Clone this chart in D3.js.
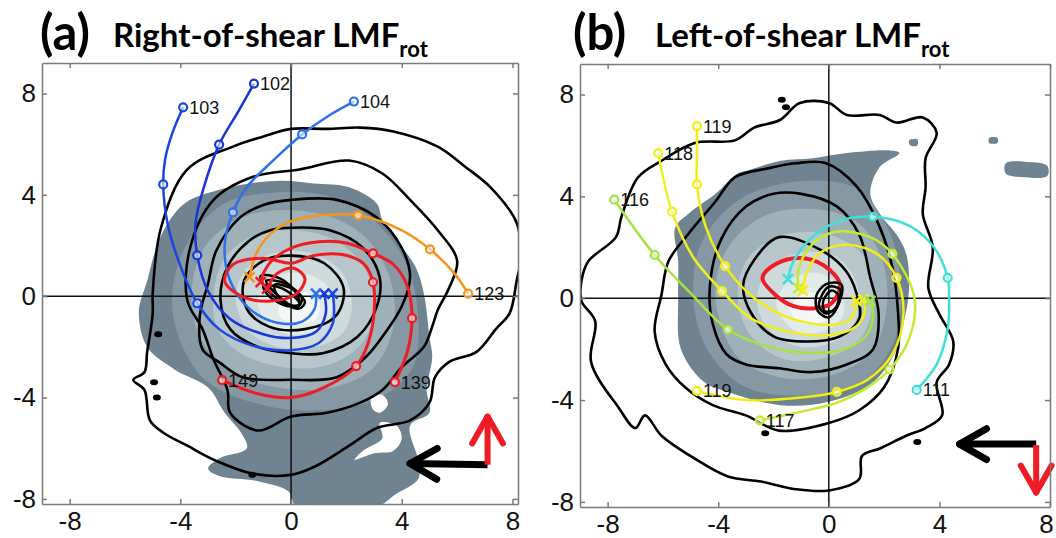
<!DOCTYPE html>
<html>
<head>
<meta charset="utf-8">
<script src="https://cdn.jsdelivr.net/npm/d3@7"></script>
<style>
body { margin: 0; background: #fff; }
svg { display: block; }
.axis text { font-family: "Liberation Sans", Arial, sans-serif; font-size: 26px; fill: #111; }
.axis path, .axis line { stroke: #7a7a7a; stroke-width: 1.5; }
.traj-label { font-family: "Liberation Sans", Arial, sans-serif; font-size: 18px; fill: #111; }
.title { font-family: Lato, "Open Sans", sans-serif; font-weight: bold; fill: #000; }
</style>
</head>
<body>
<svg id="chart" width="1056" height="538"></svg>
<script>
// ---- data (storm-relative coordinates) ----
var tickValues = [-8, -4, 0, 4, 8];
var shadeColors = ["#6f8390", "#8598a3", "#9eb0b8", "#b7c6cb", "#cedadc", "#e3eaea", "#f4f7f7"];

// panel (a) filled levels, outermost first
var shadeA = [
  [[-0.3,4.55],[0.8,4.45],[2.1,4.3],[3.1,3.65],[3.3,3.0],[3.9,2.1],[4.5,1.15],[4.8,0.1],[5.0,-1.6],[5.1,-2.4],[4.9,-3.7],[5.0,-4.6],[4.3,-5.1],[4.6,-6.5],[4.6,-7.2],[3.8,-7.8],[3.1,-8.3],[0.2,-8.3],[-0.1,-7.7],[-1.2,-7.3],[-2.6,-7.1],[-3.0,-6.8],[-2.6,-6.4],[-1.6,-6.0],[-1.8,-5.4],[-2.4,-4.6],[-3.0,-3.6],[-4.2,-2.9],[-5.2,-2.0],[-5.5,-0.6],[-5.2,0.6],[-4.9,1.8],[-4.5,2.8],[-3.8,3.7],[-2.6,4.2],[-1.5,4.45]],
  [[-4.3,0],[-3.8,2],[-2.5,3.6],[-0.5,4.1],[1.5,3.9],[3.0,3.0],[4.2,1.2],[4.6,-1],[4.4,-2.8],[3.2,-4.0],[1.2,-4.5],[-1,-4.3],[-3,-3.4],[-4,-1.8]],
  [[-3.6,0],[-3.2,1.8],[-2,3.0],[-0.3,3.4],[1.5,3.1],[2.8,2.2],[3.6,0.6],[3.7,-1.2],[3.0,-2.8],[1.5,-3.6],[-0.5,-3.6],[-2.3,-2.9],[-3.3,-1.6]],
  [[-2.8,0],[-2.4,1.5],[-1.3,2.4],[0.2,2.6],[1.6,2.2],[2.6,1.2],[3.0,-0.3],[2.6,-1.8],[1.4,-2.7],[-0.3,-2.8],[-1.9,-2.2],[-2.7,-1.2]],
  [[-2.0,0],[-1.6,1.1],[-0.6,1.7],[0.7,1.7],[1.8,1.0],[2.2,-0.3],[1.9,-1.4],[0.9,-2.0],[-0.5,-2.0],[-1.6,-1.3]],
  [[-1.2,-0.1],[-0.7,0.7],[0.4,0.9],[1.3,0.4],[1.5,-0.5],[1.0,-1.3],[-0.1,-1.5],[-0.9,-1.0]],
  [[-0.4,-0.3],[0.3,0.2],[1.0,-0.2],[0.9,-0.9],[0.1,-1.1],[-0.4,-0.8]]
];
var holesA = [
  [[2.9,-4.0],[3.3,-3.9],[3.5,-4.25],[3.2,-4.6],[2.95,-4.45]],
  [[3.2,-5.0],[3.8,-5.1],[4.0,-5.6],[3.7,-6.1],[3.0,-6.2],[2.3,-6.45],[2.6,-6.1],[3.3,-5.6]]
];
var ringsA = [
  [[0,6.6],[1.3,6.6],[2.5,6.65],[3.7,6.5],[5.3,5.9],[6.3,5.1],[7.2,4.3],[8.15,2.9],[8.3,1.5],[8.15,0.6],[7.9,-0.67],[7.4,-1.3],[6.7,-2.2],[5.7,-2.6],[5.2,-3.2],[5.0,-4.2],[4.3,-4.9],[3.1,-5.2],[2.1,-5.9],[0.9,-6.7],[0,-7.05],[-1.4,-7.0],[-2.7,-6.5],[-3.75,-5.9],[-4.6,-5.4],[-5.1,-4.9],[-5.3,-3.7],[-5.7,-3.3],[-5.3,-3.0],[-5.2,-2.2],[-5.0,-0.7],[-5.0,0.1],[-4.7,2.7],[-3.75,5.0],[-2.1,5.9],[-1.0,6.3]],
  [[0.3,5.0],[2.1,5.35],[3.3,4.84],[4.3,3.8],[5.3,2.6],[6.0,1.4],[5.7,0.3],[5.3,-0.55],[5.1,-1.2],[4.8,-2.0],[4.0,-2.8],[3.3,-3.7],[2.5,-4.2],[1.3,-4.6],[0,-4.75],[-1.2,-5.3],[-2.2,-4.6],[-2.3,-3.7],[-2.8,-2.5],[-3.2,-1.3],[-3.75,-0.16],[-3.65,1.9],[-2.8,3.8],[-1.4,4.7]],
  [[0,3.8],[1.65,3.8],[3.1,3.1],[4.0,1.9],[4.3,0.75],[4.0,-0.4],[3.3,-1.6],[2.7,-2.4],[1.65,-3.2],[0,-3.3],[-1.75,-3.2],[-2.6,-2.6],[-3.2,-2.1],[-3.3,-0.8],[-3.0,0.5],[-2.7,1.8],[-1.85,3.1],[-1.0,3.6]],
  [[0,2.7],[1.4,2.6],[2.6,1.9],[3.2,0.75],[3.1,-0.4],[2.4,-1.6],[1.15,-2.25],[0,-2.25],[-1.2,-2.0],[-2.2,-1.3],[-2.55,-0.15],[-2.3,1.15],[-1.5,2.2],[-0.75,2.6]],
  [[0,1.6],[1.2,1.3],[1.9,0.3],[1.6,-0.8],[0.5,-1.3],[-0.8,-1.2],[-1.6,-0.5],[-1.7,0.6],[-1.0,1.4]]
];
var blobsA = [[-4.8,-1.5],[-4.95,-3.4],[-4.85,-4.0],[-1.4,-7.05]];
var scribbleA = [
  [[-1.1,0.8],[-0.4,0.7],[0.2,0.1],[0.3,-0.35],[-0.2,-0.3],[-0.9,0.3]],
  [[-0.9,0.6],[-0.2,0.5],[0.4,-0.1],[0.2,-0.45],[-0.4,-0.05]],
  [[-0.6,0.45],[0.1,0.25],[0.5,-0.25],[0.25,-0.5],[-0.5,0.05]],
  [[-1.0,0.4],[-0.3,0.3],[0.3,-0.3],[-0.1,-0.4],[-0.8,0.0]]
];
// trajectories: [x, y, 1 = hourly marker]
var trajLabelsA = ["103", "102", "104", "123", "139", "149"];
var trajPointsA = [
  [[-3.9,7.45,1],[-4.3,6.4],[-4.55,5.4],[-4.62,4.41,1],[-4.45,2.8],[-4.0,1.2],[-3.39,-0.28,1],[-2.6,-1.3],[-1.4,-1.95],[0,-2.13],[1.0,-1.85],[1.5,-1.1],[1.55,-0.4],[1.5,0.1]],
  [[-1.34,8.39,1],[-1.9,7.3],[-2.6,5.98,1],[-3.15,4.3],[-3.45,2.9],[-3.39,1.61,1],[-3.0,0.2],[-2.2,-0.9],[-1.0,-1.5],[0,-1.65],[0.9,-1.4],[1.25,-0.7],[1.2,0.1]],
  [[2.27,7.68,1],[1.4,7.15],[0.4,6.38,1],[-0.7,5.3],[-1.6,4.3],[-2.1,3.31,1],[-2.4,2.0],[-2.2,0.6],[-1.5,-0.5],[-0.5,-1.05],[0.4,-1.0],[0.85,-0.5],[0.9,0.1]],
  [[6.4,0.1,1],[5.9,0.9],[5.02,1.85,1],[4.0,2.6],[2.42,3.19,1],[1.2,3.2],[0,2.95],[-0.8,2.4],[-1.25,1.7],[-1.45,1.0],[-1.5,0.75]],
  [[3.75,-3.39,1],[4.2,-2.2],[4.37,-0.87,1],[4.2,0.4],[3.7,1.25],[2.96,1.69,1],[2.0,2.1],[1.0,2.15],[0,1.9],[-0.7,1.4],[-1.0,0.9],[-1.1,0.55]],
  [[-2.49,-3.31,1],[-1.2,-3.85],[0,-4.0],[1.2,-3.6],[2.35,-2.76,1],[2.9,-1.4],[2.96,0.55,1],[2.6,1.3],[1.8,1.65],[0.8,1.6],[0,1.3],[-1.0,1.5],[-2.1,1.25],[-2.4,0.6],[-1.8,0.0],[-0.8,-0.2],[0.2,0.1],[0.5,0.7],[0.1,1.1],[-0.5,0.9],[-0.87,0.3]]
];
var trajColorsA = ["#1b46de", "#1638d6", "#2b72ea", "#f7941d", "#ee1c24", "#ee1c24"];
var shearA = [[7.1,-6.65],[4.3,-6.6]];
var motionA = [[7.1,-6.65],[7.1,-4.75]];

// panel (b)
var shadeB = [
  [[-3.0,5.0],[-1.73,5.4],[-0.58,5.5],[0.65,5.7],[2.2,5.8],[2.55,5.7],[1.84,5.15],[1.5,4.1],[1.85,3.3],[2.45,2.5],[2.8,1.74],[2.9,0.3],[2.7,-1.0],[2.45,-2.0],[1.6,-3.3],[0,-4.07],[-1.77,-4.2],[-3.6,-3.7],[-4.5,-3.3],[-5.35,-2.0],[-5.45,0],[-5.45,1.46],[-5.56,2.77],[-5.1,3.3],[-4.1,4.1],[-3.3,4.9]],
  [[-4.9,0],[-4.6,2.2],[-3.2,3.9],[-1.0,4.6],[1.0,4.3],[2.2,2.6],[2.6,0.5],[2.4,-1.6],[1.3,-3.2],[-0.8,-3.8],[-3.0,-3.5],[-4.4,-2.0]],
  [[-4.1,0],[-3.7,1.9],[-2.4,3.2],[-0.6,3.5],[1.0,3.0],[1.9,1.6],[2.1,-0.3],[1.6,-2.0],[0.2,-3.0],[-1.8,-3.1],[-3.3,-2.3]],
  [[-3.3,0],[-2.9,1.6],[-1.6,2.5],[0,2.5],[1.3,1.6],[1.6,0],[1.2,-1.5],[0,-2.3],[-1.6,-2.4],[-2.8,-1.5]],
  [[-2.6,0],[-2.1,1.2],[-1,1.8],[0.3,1.6],[1.0,0.6],[1.0,-0.8],[0.2,-1.7],[-1.1,-1.9],[-2.2,-1.2]],
  [[-1.9,-0.2],[-1.4,0.7],[-0.4,1.0],[0.4,0.4],[0.5,-0.7],[-0.2,-1.3],[-1.2,-1.3]],
  [[-1.4,-0.4],[-0.8,0.2],[0,0],[0.1,-0.7],[-0.5,-1.0],[-1.1,-0.9]]
];
var patchesB = [
  [[6.4,5.3],[7.2,5.35],[7.9,5.2],[7.9,4.8],[7.1,4.75],[6.4,4.9]],
  [[2.9,6.2],[3.2,6.25],[3.2,6.0],[2.95,6.0]],
  [[5.8,6.3],[6.1,6.3],[6.1,6.1],[5.8,6.1]]
];
var ringsB = [
  [[0,7.67],[0.65,7.2],[1.84,7.2],[2.45,6.9],[3.4,7.1],[3.9,6.5],[3.5,5.5],[3.5,4.35],[3.4,3.3],[3.76,2.0],[3.6,0.4],[4.0,-0.63],[4.5,-1.7],[4.35,-2.6],[3.9,-3.3],[4.1,-4.6],[3.5,-5.1],[2.8,-5.4],[1.85,-5.9],[1.2,-6.2],[1.1,-7.1],[0,-7.55],[-1.2,-7.5],[-2.45,-7.2],[-3.65,-7.0],[-4.85,-6.3],[-6.05,-5.4],[-6.65,-4.6],[-7.0,-5.1],[-7.6,-4.3],[-8.6,-2.5],[-8.45,-0.9],[-8.95,-0.1],[-8.95,0.67],[-8.7,1.45],[-7.7,2.4],[-7.5,3.2],[-6.9,4.75],[-6.05,5.4],[-4.85,6.1],[-3.4,6.2],[-2.7,6.7],[-1.77,7.0],[-1.05,7.67]],
  [[-0.1,5.3],[1.0,4.4],[1.8,2.9],[2.3,1.2],[2.5,-0.5],[2.5,-2.0],[2.0,-3.5],[1.1,-4.4],[0,-4.9],[-1.8,-5.2],[-3.0,-4.6],[-4.2,-4.2],[-5.2,-3.5],[-5.9,-2.6],[-6.3,-1.3],[-6.05,0.15],[-5.8,1.45],[-5.1,2.5],[-4.1,3.8],[-3.4,4.75],[-2.2,5.1],[-1.2,5.3]],
  [[-1.0,4.1],[0.3,3.6],[1.1,2.5],[1.5,0.8],[1.8,-0.6],[1.6,-2.0],[0.65,-2.6],[-0.6,-2.9],[-1.8,-2.75],[-3.0,-2.6],[-3.7,-2.2],[-4.2,-1.0],[-4.3,0.5],[-3.9,2.3],[-3.0,3.6],[-2.0,4.1]],
  [[-2.7,1.5],[-1.8,2.4],[-0.3,1.9],[0.6,1.1],[1.0,0.2],[1.1,-0.8],[0.4,-1.5],[-0.8,-1.7],[-2.0,-1.5],[-2.8,-0.6],[-3.1,0.5]]
];
var blobsB = [[-1.55,7.5],[-2.3,-5.3],[3.2,-5.65],[-1.7,7.8]];
var scribbleB = [
  [[-0.45,0.1],[-0.1,0.55],[0.45,0.55],[0.4,-0.1],[0.0,-0.75],[-0.4,-0.5]],
  [[-0.3,0.0],[0.0,0.45],[0.4,0.35],[0.3,-0.3],[-0.1,-0.6],[-0.35,-0.35]],
  [[-0.2,-0.1],[0.1,0.3],[0.35,0.1],[0.2,-0.45],[-0.15,-0.5]]
];
var loopB = [[-2.4,0.8],[-1.9,1.35],[-1.05,1.58],[-0.2,1.3],[0.4,0.55],[0.1,-0.2],[-0.58,-0.4],[-1.3,-0.3],[-1.9,0.1]];
var trajLabelsB = ["119", "118", "116", "111", "117", "119"];
var trajPointsB = [
  [[-4.77,6.76,1],[-4.77,5.6],[-4.77,4.47,1],[-4.45,2.8],[-3.75,1.26,1],[-2.8,0.1],[-1.6,-0.7],[0,-1.05],[0.8,-0.8],[1.0,-0.1]],
  [[-6.17,5.7,1],[-5.67,3.4,1],[-4.9,1.6],[-3.86,0.28,1],[-2.8,-0.8],[-1.3,-1.35],[0,-1.45],[1.0,-1.1],[1.3,-0.5],[1.25,-0.05]],
  [[-7.76,3.87,1],[-6.3,1.7,1],[-5.0,0.2],[-3.65,-1.23,1],[-2.2,-1.9],[-0.6,-2.15],[0.6,-2.0],[1.4,-1.4],[1.6,-0.7],[1.5,-0.1]],
  [[3.18,-3.6,1],[3.9,-2.6],[4.3,-1.2],[4.35,0.1],[4.3,0.8,1],[3.8,2.0],[2.9,2.85],[1.6,3.2,1],[0.3,3.0],[-0.7,2.3],[-1.3,1.4],[-1.48,0.75]],
  [[-2.5,-4.8,1],[-1.2,-4.5],[0.3,-4.1],[1.4,-3.5],[2.2,-2.8,1],[2.9,-1.6],[3.1,0.0],[2.3,1.74,1],[1.5,2.4],[0.2,2.6],[-0.7,2.0],[-1.1,1.1],[-1.1,0.4]],
  [[-4.77,-3.64,1],[-3.0,-4.0],[-1.0,-3.9],[0.29,-3.68,1],[1.4,-3.2],[2.3,-2.2],[2.7,-0.6],[2.45,0.8,1],[1.8,1.7],[0.7,2.1],[-0.3,1.8],[-0.8,1.0],[-0.94,0.3]]
];
var trajColorsB = ["#f2ee14", "#eef01e", "#a4e246", "#3fe0d6", "#c2ec30", "#f2ee14"];
var shearB = [[7.5,-5.73],[4.73,-5.73]];
var motionB = [[7.5,-5.77],[7.5,-7.63]];

var panels = [
  { id: "a", letter: "(a)", title: "Right-of-shear LMF", xDomain: [-9, 8.2], xRange: [42, 518], yRange: [504, 63],
    titleX: [40, 113], shade: shadeA, extra: holesA, extraFill: "#fff", rings: ringsA, blobs: blobsA, scribble: scribbleA, loop: null,
    labels: trajLabelsA, points: trajPointsA, colors: trajColorsA, shear: shearA, motion: motionA },
  { id: "b", letter: "(b)", title: "Left-of-shear LMF", xDomain: [-9, 8.0], xRange: [580, 1050], yRange: [507, 64],
    titleX: [573, 655], shade: shadeB, extra: patchesB, extraFill: shadeColors[0], rings: ringsB, blobs: blobsB, scribble: scribbleB, loop: loopB,
    labels: trajLabelsB, points: trajPointsB, colors: trajColorsB, shear: shearB, motion: motionB }
];

var svg = d3.select("#chart");
var plain = function(d) { return String(d); };

function arrow(g, x, y, seg, color, width) {
  var x0 = x(seg[0][0]), y0 = y(seg[0][1]), x1 = x(seg[1][0]), y1 = y(seg[1][1]);
  var ang = Math.atan2(y1 - y0, x1 - x0), len = 31, spread = 0.52;
  g.append("line").attr("x1", x0).attr("y1", y0).attr("x2", x1).attr("y2", y1)
    .attr("stroke", color).attr("stroke-width", width);
  [-spread, spread].forEach(function(s) {
    g.append("line").attr("x1", x1).attr("y1", y1)
      .attr("x2", x1 - len * Math.cos(ang + s)).attr("y2", y1 - len * Math.sin(ang + s))
      .attr("stroke", color).attr("stroke-width", width).attr("stroke-linecap", "round");
  });
}

panels.forEach(function(p) {
  var x = d3.scaleLinear().domain(p.xDomain).range(p.xRange);
  var y = d3.scaleLinear().domain([-8.2, 9.2]).range(p.yRange);

  var closed = d3.line().x(function(d) { return x(d[0]); }).y(function(d) { return y(d[1]); })
    .curve(d3.curveCatmullRomClosed.alpha(0.5));
  var open = d3.line().x(function(d) { return x(d[0]); }).y(function(d) { return y(d[1]); })
    .curve(d3.curveCatmullRom.alpha(0.5));

  var g = svg.append("g");
  svg.append("clipPath").attr("id", "clip-" + p.id).append("rect")
    .attr("x", p.xRange[0]).attr("y", p.yRange[1])
    .attr("width", p.xRange[1] - p.xRange[0]).attr("height", p.yRange[0] - p.yRange[1]);
  var plot = g.append("g").attr("clip-path", "url(#clip-" + p.id + ")");

  // shaded levels
  p.shade.forEach(function(poly, i) {
    plot.append("path").attr("d", closed(poly)).attr("fill", shadeColors[i]);
  });
  p.extra.forEach(function(poly) {
    plot.append("path").attr("d", closed(poly)).attr("fill", p.extraFill);
  });

  // zero lines
  plot.append("line").attr("x1", x(0)).attr("x2", x(0)).attr("y1", p.yRange[0]).attr("y2", p.yRange[1])
    .attr("stroke", "#111").attr("stroke-width", 1.5);
  plot.append("line").attr("x1", p.xRange[0]).attr("x2", p.xRange[1]).attr("y1", y(0)).attr("y2", y(0))
    .attr("stroke", "#111").attr("stroke-width", 1.5);

  // black contours
  plot.selectAll(".ring").data(p.rings).enter().append("path")
    .attr("d", closed).attr("fill", "none").attr("stroke", "#000").attr("stroke-width", 2.6)
    .attr("stroke-linejoin", "round");
  plot.selectAll(".blob").data(p.blobs).enter().append("ellipse")
    .attr("cx", function(d) { return x(d[0]); }).attr("cy", function(d) { return y(d[1]); })
    .attr("rx", 4).attr("ry", 3).attr("fill", "#000");

  // red loop / central black scribble
  if (p.loop) {
    plot.append("path").attr("d", closed(p.loop)).attr("fill", "none")
      .attr("stroke", "#ee1c24").attr("stroke-width", 4);
  }
  plot.selectAll(".scr").data(p.scribble).enter().append("path")
    .attr("d", closed).attr("fill", "none").attr("stroke", "#000").attr("stroke-width", 2.5);

  // trajectories
  p.points.forEach(function(pts, i) {
    var c = p.colors[i];
    var tg = plot.append("g");
    tg.append("path").attr("d", open(pts)).attr("fill", "none").attr("stroke", c)
      .attr("stroke-width", c === "#ee1c24" ? 3 : 2.5);
    pts.filter(function(d) { return d[2]; }).forEach(function(d) {
      tg.append("circle").attr("cx", x(d[0])).attr("cy", y(d[1])).attr("r", 4)
        .attr("fill", "#fff").attr("fill-opacity", 0.6).attr("stroke", c).attr("stroke-width", 2.2);
    });
    var e = pts[pts.length - 1], ex = x(e[0]), ey = y(e[1]);
    tg.append("path").attr("d", "M" + (ex - 5) + "," + (ey - 5) + "L" + (ex + 5) + "," + (ey + 5) +
      "M" + (ex - 5) + "," + (ey + 5) + "L" + (ex + 5) + "," + (ey - 5))
      .attr("stroke", c).attr("stroke-width", 2.5);
    g.append("text").attr("class", "traj-label")
      .attr("x", x(pts[0][0]) + 6).attr("y", y(pts[0][1]))
      .attr("dy", "0.36em").text(p.labels[i]);
  });

  // shear (black) and storm motion (red) arrows
  arrow(g, x, y, p.shear, "#000", 7);
  arrow(g, x, y, p.motion, "#ee1c24", 6);

  // axes: ticks point inward
  var yTop = p.yRange[1], yBot = p.yRange[0];
  var bottom = g.append("g").attr("class", "axis").attr("transform", "translate(0," + yBot + ")")
    .call(d3.axisBottom(x).tickValues(tickValues).tickFormat(plain).tickSizeInner(-5).tickSizeOuter(0).tickPadding(8));
  // keep the last label inside the page
  bottom.selectAll("text").filter(function(d) { return x(d) + 8 > 1056; }).attr("dx", -4);
  g.append("g").attr("class", "axis").attr("transform", "translate(0," + yTop + ")")
    .call(d3.axisTop(x).tickValues(tickValues).tickSizeInner(-5).tickSizeOuter(0).tickFormat(""));
  g.append("g").attr("class", "axis").attr("transform", "translate(" + p.xRange[0] + ",0)")
    .call(d3.axisLeft(y).tickValues(tickValues).tickFormat(plain).tickSizeInner(-5).tickSizeOuter(0).tickPadding(6));
  g.append("g").attr("class", "axis").attr("transform", "translate(" + p.xRange[1] + ",0)")
    .call(d3.axisRight(y).tickValues(tickValues).tickSizeInner(-5).tickSizeOuter(0).tickFormat(""));

  // title
  svg.append("text").attr("class", "title").attr("x", p.titleX[0]).attr("y", 50)
    .style("font-size", "49px").text(p.letter);
  var t = svg.append("text").attr("class", "title").attr("x", p.titleX[1]).attr("y", 47)
    .style("font-size", "33px");
  t.append("tspan").text(p.title);
  t.append("tspan").attr("dy", 10).style("font-size", "22px").text("rot");
});
</script>
</body>
</html>
